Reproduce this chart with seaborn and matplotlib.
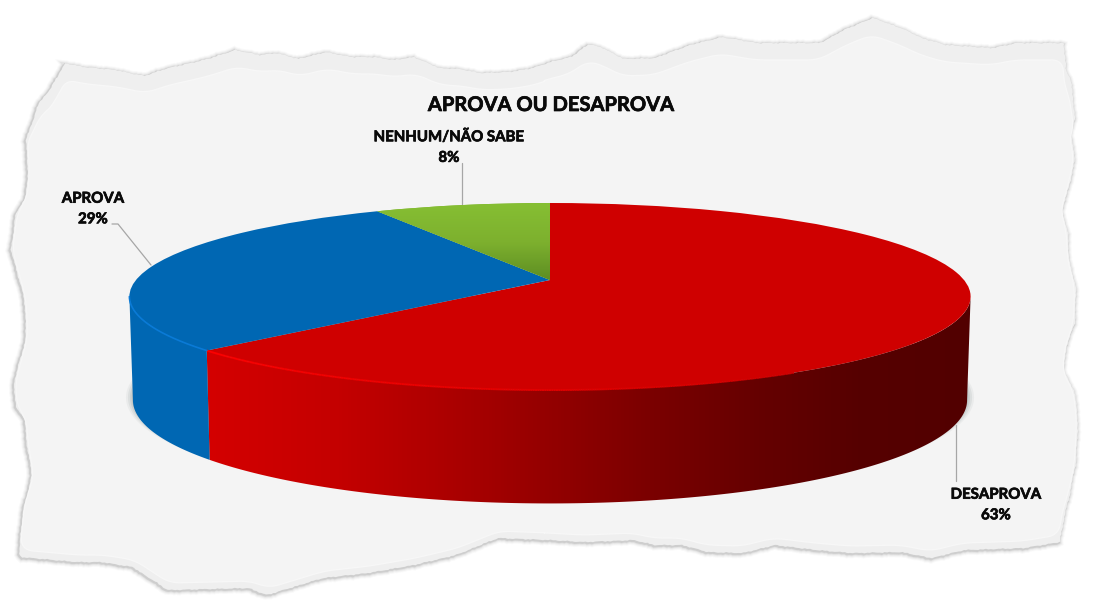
import numpy as np
import matplotlib
matplotlib.use("Agg")
import matplotlib.pyplot as plt
import matplotlib.patheffects as pe
import seaborn as sns
from matplotlib.colors import LinearSegmentedColormap
from matplotlib.collections import LineCollection
from matplotlib.patches import Polygon
from matplotlib.transforms import Transform

# ---- data ----
categories = ["DESAPROVA", "APROVA", "NENHUM/NÃO SABE"]
values = [63, 29, 8]
colors = ["#cf0000", "#0067b3", "#7fb52f"]
title = "APROVA OU DESAPROVA"

# ---- decorative torn-paper outline (pixels) ----
paper_x = [65,84,116,144,168,191,211,235,260,277,298,326,351,375,393,414,439,460,481,509,533,550,571,589,603,624,655,690,722,757,782,820,848,873,901,922,946,992,1017,1064,
           1066,1071,1075,1071,1075,1069,1062,1068,1069,1076,1075,1066,1064,1075,1078,1076,1069,1064,1060,
           1024,964,932,901,852,817,775,743,708,683,655,634,585,550,498,456,414,368,323,267,249,168,133,102,77,21,
           19,23,32,26,25,16,14,26,25,23,11,16,26,28,26,39,51]
paper_y = [63,67,70,76,68,63,58,50,55,53,59,52,57,57,60,57,68,69,73,72,68,62,57,44,48,59,58,45,37,43,43,43,28,18,28,38,45,48,43,43,
           70,80,117,133,160,187,210,233,260,287,322,348,372,392,422,462,498,518,542,
           548,550,558,552,553,550,545,553,552,545,545,540,542,540,538,555,565,573,578,595,588,590,567,562,562,557,
           553,512,475,438,418,408,382,338,305,293,250,213,197,170,140,103,88]

sns.set_theme(style="white")
plt.rcParams["font.family"] = ["Lato", "DejaVu Sans"]

fig = plt.figure(figsize=(11, 6.1), dpi=100, facecolor="white")
ax = fig.add_axes([0, 0, 1, 1])


class Tilt(Transform):
    """Perspective view of the unit pie disc onto a pixel-space ellipse."""
    input_dims = output_dims = 2

    def __init__(self, cx, cy, a, b, k):
        super().__init__()
        self.p = (cx, cy, a, b, k)

    def transform_non_affine(self, xy):
        cx, cy, a, b, k = self.p
        xy = np.asarray(xy, float)
        w = 1 + k * xy[:, 1]
        return np.column_stack([cx + a * xy[:, 0] / w, cy - b * xy[:, 1] / w])


KEY = 0.1765
top = Tilt(550, 280, 414, 90.6, KEY)
base = Tilt(550, 382, 410.5, 100, KEY)

palette = sns.color_palette(colors)
wedges, _ = ax.pie(values, colors=palette, startangle=90, counterclock=False,
                   wedgeprops=dict(linewidth=0))
ax.set_aspect("auto")
ax.set_xlim(0, 1100)
ax.set_ylim(610, 0)
ax.axis("off")
for w in wedges:
    w.set_transform(top + ax.transData)
    w.set_zorder(6)


def rim(tilt, deg):
    t = np.radians(deg)
    return tilt.transform_non_affine(np.column_stack([np.cos(t), np.sin(t)]))


# ---- paper ----
px, py = np.array(paper_x, float), np.array(paper_y, float)
px, py = np.r_[px, px[0]], np.r_[py, py[0]]
s = np.r_[0, np.cumsum(np.hypot(np.diff(px), np.diff(py)))]
u = np.arange(0, s[-1], 2.5)
ox, oy = np.interp(u, s, px), np.interp(u, s, py)
fx = ox + 0.35 * np.sin(u * 0.9) + 0.3 * np.sin(u * 2.3)
fy = oy + 0.35 * np.sin(u * 1.1 + 1) + 0.3 * np.sin(u * 2.9)
outer = np.column_stack([fx, fy])
for lw, al in [(6, .03), (4.5, .05), (3, .08), (1.6, .14)]:
    ax.add_patch(Polygon(outer + [-1, 1], closed=True, fill=False, ec="#555555",
                         lw=lw, alpha=al, zorder=1))
ax.add_patch(Polygon(outer, closed=True, fc="#efefef", ec="none", zorder=1.5))
kern = np.ones(9) / 9
sx = np.convolve(np.r_[ox[-9:], ox, ox[:9]], kern, "same")[9:-9]
sy = np.convolve(np.r_[oy[-9:], oy, oy[:9]], kern, "same")[9:-9]
inner_y = sy + 17 * np.clip((150 - sy) / 60, 0, 1) - 7 * np.clip((sy - 480) / 40, 0, 1)
inner_x = sx - 1.5 * np.sign(sx - 545)
inner = np.column_stack([inner_x, inner_y])
ax.add_patch(Polygon(inner, closed=True, fc="#f4f4f4", ec="#f7f7f7", lw=1.0, zorder=1.6))

# ---- soft shadow under the disc ----
deg_all = np.linspace(0, 360, 361)
bp = rim(base, deg_all)
for grow, al in [(7, .08), (5, .12), (3, .16), (1.2, .25)]:
    p = bp.copy()
    p[:, 0] = 550 + (p[:, 0] - 550) * (1 + grow / 417)
    p[:, 1] = p[:, 1] + grow * 0.05 - 3
    ax.add_patch(Polygon(p, closed=True, fc="#7f8a8a", ec="none", alpha=al, zorder=2))

# ---- side walls, derived from the pie's own wedge angles ----
edge_deg = np.degrees(np.arcsin(KEY))
sweep = np.linspace(180 + edge_deg, 360 - edge_deg, 801)
wall_cmap = LinearSegmentedColormap.from_list("wall", [
    (0.00, "#d40000"), (0.17, "#c40000"), (0.36, "#a40000"), (0.45, "#930000"),
    (0.57, "#7c0000"), (0.72, "#650000"), (0.85, "#560000"), (1.00, "#520000")])
for w, col in zip(wedges, colors):
    span = w.theta2 - w.theta1
    ang = sweep[(sweep - w.theta1) % 360 <= span]
    if ang.size == 0:
        continue
    for edge in (w.theta1, w.theta2):
        for e in (edge, edge + 360):
            if sweep[0] <= e <= sweep[-1]:
                ang = np.r_[ang, e]
    ang = np.unique(ang)
    poly = np.vstack([rim(top, ang), rim(base, ang)[::-1]])
    if col == colors[0]:
        patch = Polygon(poly, closed=True, fc="none", ec="none")
        ax.add_patch(patch)
        im = ax.imshow(np.linspace(0, 1, 512)[None, :], cmap=wall_cmap, aspect="auto",
                       extent=(207, 975, 510, 290), zorder=3)
        im.set_clip_path(patch)
        # bright bevel along the lit part of the front edge
        a2 = ang[ang <= 300]
        pts = rim(top, a2)
        segs = np.stack([pts[:-1], pts[1:]], axis=1)
        mix = np.linspace(0, 1, len(segs))[:, None]
        cols = (1 - mix) * np.array([1, 0, 0, 1]) + mix * np.array([.81, 0, 0, 1])
        ax.add_collection(LineCollection(segs, colors=cols, lw=1.4, zorder=7))
    else:
        ax.add_patch(Polygon(poly, closed=True, fc=col, ec="none", zorder=3))
        ax.plot(*rim(top, ang).T, color="#0a7ad6", lw=1.2, zorder=7)

# ---- green gradient on the smallest slice ----
green_cmap = LinearSegmentedColormap.from_list("g", ["#86bf33", "#7db02e", "#5c8c22"])
gim = ax.imshow(np.linspace(0, 1, 128)[:, None], cmap=green_cmap, aspect="auto",
                extent=(370, 560, 282, 203), zorder=6.5)
gim.set_clip_path(wedges[2])
ax.set_xlim(0, 1100)
ax.set_ylim(610, 0)

# ---- leader lines ----
lc = "#a6a6a6"
ax.plot([112, 118, 151], [224, 224, 265], color=lc, lw=0.9, zorder=5)
ax.plot([462, 462], [163, 205], color=lc, lw=0.9, zorder=5)
ax.plot([956, 956], [425, 481], color=lc, lw=0.9, zorder=2.5)

# ---- text ----
heavy = [pe.withStroke(linewidth=0.5, foreground="#0a0a0a")]
ax.text(551, 105, title, ha="center", va="center", fontsize=14.5, fontweight="bold",
        color="#0a0a0a", zorder=10, path_effects=heavy)
label_pos = {categories[0]: (996, 505), categories[1]: (93, 209), categories[2]: (449, 147)}
for c, v in zip(categories, values):
    x, y = label_pos[c]
    ax.text(x, y, f"{c}\n{v}%", ha="center", va="center", fontsize=10.8, fontweight="bold",
            color="#0a0a0a", linespacing=1.6, zorder=10, path_effects=heavy)

fig.savefig("out.png", dpi=100, facecolor="white")
